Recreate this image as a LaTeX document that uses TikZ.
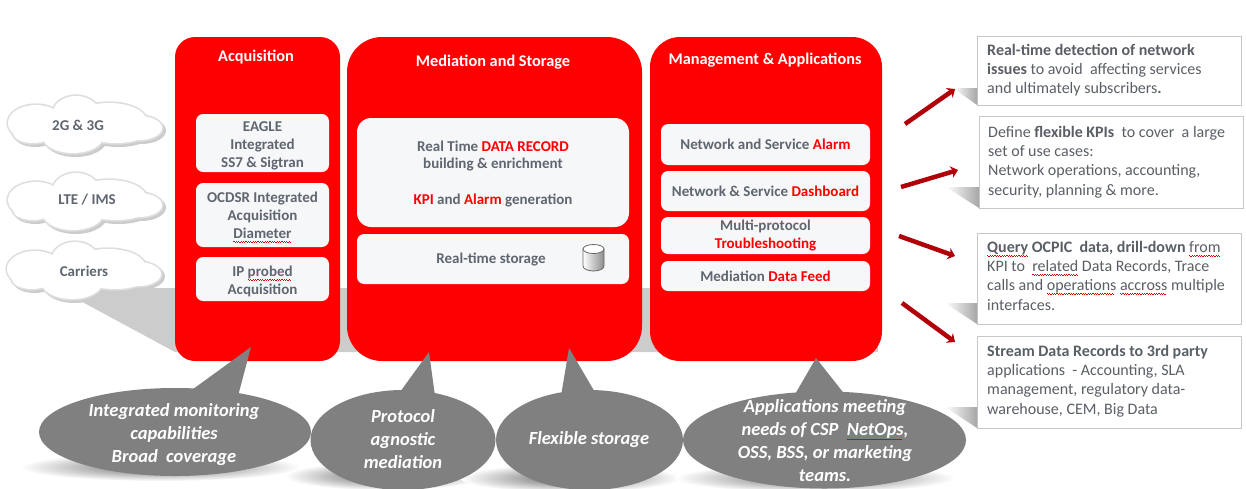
\documentclass[tikz,border=0pt]{standalone}
\usepackage{fontspec}
\setmainfont{Carlito}
\usetikzlibrary{positioning,shapes.geometric,arrows.meta}

\definecolor{boxfill}{HTML}{F6F7F9}
\definecolor{boxtext}{HTML}{5F6670}
\definecolor{notetext}{HTML}{5A5F66}
\definecolor{arrowred}{HTML}{B00008}
\newcommand{\hot}[1]{\textcolor{red}{#1}}
\newcommand{\lowline}{\rule{0pt}{15pt}}
\newcommand{\squig}[1]{\setbox0\hbox{#1}\rlap{\hbox to\wd0{\leaders\hbox{{\color{red!85!black}\vrule width 1.2pt height -2.6pt depth 3.3pt\vrule width 1.2pt height -3.2pt depth 3.9pt}}\hfill}}\box0\relax}
% one cloud, built from overlapping lobes
\newcommand{\lobes}{-49/-2/28/18,-9/-12/23/17,24/-5/37/17,54/3/23/12,31/8/30/10,-12/12/30/16,-52/8/20/10}
\newcommand{\netshape}[1]{%
  \begin{scope}[shift={(#1)}]
  \foreach \lx/\ly/\rx/\ry in \lobes
    \fill[black!20] (\lx+2.5,\ly+2.5) ellipse [x radius=\rx+1.5,y radius=\ry+1.5];
  \foreach \lx/\ly/\rx/\ry in \lobes
    \fill[black!13] (\lx,\ly) ellipse [x radius=\rx+1.7,y radius=\ry+1.7];
  \foreach \lx/\ly/\rx/\ry in \lobes
    \fill[white] (\lx,\ly) ellipse [x radius=\rx,y radius=\ry];
  \end{scope}}

\begin{document}
\begin{tikzpicture}[x=1pt,y=-1pt,
panel/.style={fill=red,inner sep=0pt},
paneltitle/.style={text=white,font=\bfseries,node font=\fontsize{16.3}{18}\selectfont},
inbox/.style={fill=boxfill,rounded corners=2.5mm,inner sep=0pt,align=center,
  text=boxtext,font=\bfseries,node font=\fontsize{15}{17.8}\selectfont},
notebox/.style={draw=gray!45,line width=1pt,fill=white,inner sep=0pt,
  minimum width=264pt},
notetext/.style={anchor=north west,align=left,inner sep=0pt,text=notetext,
  node font=\fontsize{16}{19.2}\selectfont},
netlabel/.style={text=boxtext,font=\bfseries,node font=\fontsize{15}{17}\selectfont},
bubble/.style={ellipse,fill=black!50,inner sep=0pt},
bubbletext/.style={text=white,align=center,font=\bfseries\itshape,
  node font=\fontsize{18.5}{23}\selectfont},
pointer/.style={fill=black!50},
flatshadow/.style={fill=black!20},
softshadow/.style={shading=radial,inner color=black!60,outer color=white},
sideshadow/.style={left color=white,right color=black!35,shading angle=90},
dbicon/.style={draw=black!60,line width=0.8pt},
hint/.style={arrowred,line width=4.5pt,-{Stealth[length=7pt,width=12pt]}}
]
\useasboundingbox (0,0) rectangle (1246,488);

% shadows
\fill[flatshadow] (75,298) -- (105,288) -- (878,288) -- (878,352) -- (175,352) -- cycle;
\shade[softshadow] (160,467) ellipse [x radius=140,y radius=14];
\shade[softshadow] (385,476) ellipse [x radius=100,y radius=14];
\shade[softshadow] (570,478) ellipse [x radius=110,y radius=14];
\shade[softshadow] (815,478) ellipse [x radius=140,y radius=14];
\shade[sideshadow] (953,88) -- (977,88) -- (977,105) -- cycle;
\shade[sideshadow] (946,187) -- (979,187) -- (979,208) -- cycle;
\shade[sideshadow] (945,303) -- (977,303) -- (977,324) -- cycle;
\shade[sideshadow] (945,407) -- (977,407) -- (977,428) -- cycle;

% clouds
\netshape{85,125}
\netshape{85,202}
\netshape{84,271}
\node (l1) [netlabel] at (78,125) {2G \& 3G};
\node (l2) [netlabel] at (87,200) {LTE / IMS};
\node (l3) [netlabel] at (84,271) {Carriers};

% panels
\node (acq) [panel,rounded corners=20pt,minimum width=165pt,minimum height=324pt] at (257.5,199) {};
\node (med) [panel,rounded corners=35pt,minimum width=295pt,minimum height=324pt] at (494.5,199) {};
\node (app) [panel,rounded corners=30pt,minimum width=232pt,minimum height=324pt] at (766,199) {};
\node (acqt) [paneltitle] at (256,57) {Acquisition};
\node (medt) [paneltitle] at (493,62) {Mediation and Storage};
\node (appt) [paneltitle] at (765,60) {Management \& Applications};

\node (a1) [inbox,minimum width=133pt,minimum height=58pt] at (262.5,143) {\lowline EAGLE\\Integrated\\SS7 \& Sigtran};
\node (a2) [inbox,minimum width=133pt,minimum height=64pt] at (262.5,215) {\lowline OCDSR Integrated\\Acquisition\\\squig{Diameter}};
\node (a3) [inbox,minimum width=133pt,minimum height=44pt] at (262.5,279) {\lowline IP \squig{probed}\\Acquisition};

\node (m1) [inbox,rounded corners=5mm,minimum width=272pt,minimum height=109pt] at (493,172.5) {\rule{0pt}{13pt}Real Time \hot{DATA RECORD}\\building \& enrichment\\[17.8pt]\hot{KPI} and \hot{Alarm} generation};
\node (m2) [inbox,minimum width=272pt,minimum height=50pt] at (493,259) {};
\node (m2t) [netlabel] at (491,259) {Real-time storage};
\draw [dbicon,left color=white,right color=black!45] (583,249) -- (583,266) arc [start angle=180,end angle=360,x radius=10.5pt,y radius=5pt] -- (604,249) -- cycle;
\draw [dbicon,fill=white] (593.5,249) ellipse [x radius=10.5pt,y radius=4.5pt];

\node (p1) [inbox,minimum width=209pt,minimum height=41pt] at (765.5,144.5) {Network and Service \hot{Alarm}};
\node (p2) [inbox,minimum width=209pt,minimum height=40pt] at (765.5,191) {Network \& Service \hot{Dashboard}};
\node (p3) [inbox,minimum width=209pt,minimum height=37pt] at (765.5,235.5) {Multi-protocol\\\hot{Troubleshooting}};
\node (p4) [inbox,minimum width=209pt,minimum height=30pt] at (765.5,276) {Mediation \hot{Data Feed}};

% callouts
\fill[pointer] (189,392) -- (251,347) -- (238,396) -- cycle;
\fill[pointer] (400,392) -- (429,352) -- (435,396) -- cycle;
\fill[pointer] (561,396) -- (569,348) -- (596,394) -- cycle;
\fill[pointer] (794,396) -- (816,358) -- (846,396) -- cycle;

\node (b1) [bubble,minimum width=272pt,minimum height=88pt] at (175,432) {};
\node (b2) [bubble,minimum width=185pt,minimum height=100pt] at (403,440) {};
\node (b3) [bubble,minimum width=187pt,minimum height=100pt] at (589.5,440) {};
\node (b4) [bubble,minimum width=283pt,minimum height=97pt] at (824.5,440) {};
\node (b1t) [bubbletext] at (174,435) {Integrated monitoring\\capabilities\\Broad\ \ coverage};
\node (b2t) [bubbletext] at (403,439) {Protocol\\agnostic\\mediation};
\node (b3t) [bubbletext] at (589,440) {Flexible storage};
\node (b4t) [bubbletext] at (825,441) {Applications meeting\\needs of CSP\ \ \squig{NetOps},\\OSS, BSS, or marketing\\teams.};

% notes
\node (n1) [notebox,minimum height=69pt] at (1109,70.5) {};
\node (n2) [notebox,minimum height=92pt] at (1111,162) {};
\node (n3) [notebox,minimum height=91pt] at (1109.5,278.5) {};
\node (n4) [notebox,minimum height=92pt] at (1109,382) {};
\node (n1t) [notetext] at (987,44) {\textbf{Real-time detection of network}\\\textbf{issues} to avoid\ \ affecting services\\and ultimately subscribers\textbf{.}};
\node (n2t) [notetext] at (988,126) {Define \textbf{flexible KPIs}\ \ to cover\ \ a large\\set of use cases:\\Network operations, accounting,\\security, planning \& more.};
\node (n3t) [notetext] at (987,241) {\textbf{\squig{Query} OCPIC\ \ data, drill-down} \squig{from}\\KPI to\ \ \squig{related} Data Records, Trace\\calls and \squig{operations} \squig{accross} multiple\\interfaces.};
\node (n4t) [notetext] at (987,345) {\textbf{Stream Data Records to 3rd party}\\applications\ \ - Accounting, SLA\\management, regulatory data-\\warehouse, CEM, Big Data};

% arrows
\coordinate (h1) at (905,124);
\coordinate (h2) at (901,187);
\coordinate (h3) at (899,236);
\coordinate (h4) at (902,303);
\coordinate (t1) at (955,89);
\coordinate (t2) at (958,170);
\coordinate (t3) at (955,256);
\coordinate (t4) at (955,342);
\draw [hint] (h1) -- (t1);
\draw [hint] (h2) -- (t2);
\draw [hint] (h3) -- (t3);
\draw [hint] (h4) -- (t4);
\end{tikzpicture}
\end{document}
